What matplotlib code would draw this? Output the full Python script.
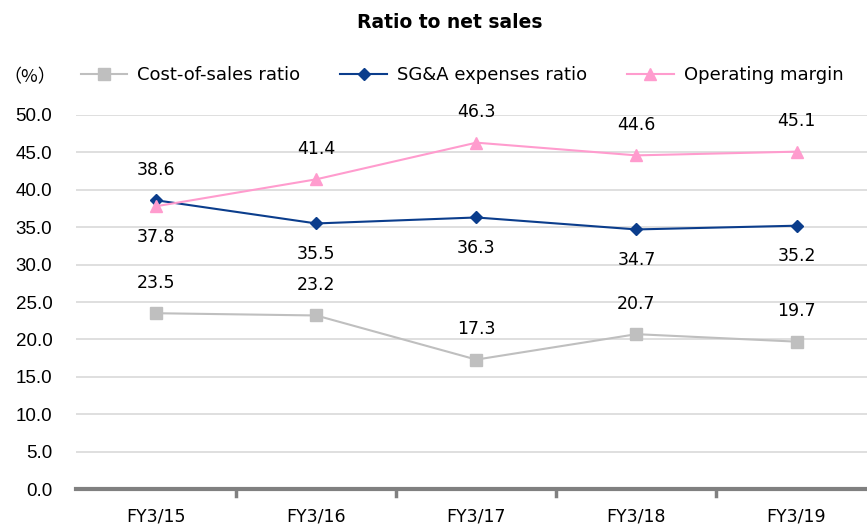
import matplotlib
matplotlib.use('Agg')
import matplotlib.pyplot as plt

# donnees
annees = ['FY3/15', 'FY3/16', 'FY3/17', 'FY3/18', 'FY3/19']
cout_ventes = [23.5, 23.2, 17.3, 20.7, 19.7]
sga = [38.6, 35.5, 36.3, 34.7, 35.2]
marge_op = [37.8, 41.4, 46.3, 44.6, 45.1]

# position des etiquettes (+1 dessus, -1 dessous)
pos_cout = [1, 1, 1, 1, 1]
pos_sga = [1, -1, -1, -1, -1]
pos_marge = [-1, 1, 1, 1, 1]

police = ['DejaVu Sans']
police_jp = ['Noto Sans CJK JP', 'DejaVu Sans']
police_chiffres = ['Liberation Sans', 'DejaVu Sans']

fig = plt.figure(figsize=(8.67, 5.26), dpi=100)
ax = fig.add_axes([0.0877, 0.0703, 0.9123, 0.7111])

x = list(range(len(annees)))
l1, = ax.plot(x, cout_ventes, color='#BFBFBF', marker='s', markersize=8, lw=1.5, label='Cost-of-sales ratio', zorder=3)
l2, = ax.plot(x, sga, color='#0B3D8C', marker='D', markersize=6.5, lw=1.5, label='SG&A expenses ratio', zorder=4)
l3, = ax.plot(x, marge_op, color='#FF9CCE', marker='^', markersize=9, lw=1.5, label='Operating margin', zorder=5)

for serie, pos in [(cout_ventes, pos_cout), (sga, pos_sga), (marge_op, pos_marge)]:
    for i in range(len(serie)):
        ax.annotate('%.1f' % serie[i], (x[i], serie[i]), xytext=(0, 22 * pos[i]),
                    textcoords='offset points', ha='center', va='center',
                    fontsize=12.5, family=police)

ax.set_xlim(-0.5, 4.44)
ax.set_ylim(0, 50)
ax.set_yticks([i * 5 for i in range(11)])
ax.set_yticklabels(['%.1f' % (i * 5) for i in range(11)], family=police_chiffres, fontsize=13.5)
ax.set_xticks(x)
ax.set_xticklabels(annees, family=police, fontsize=12.5)
ax.tick_params(axis='y', length=0, pad=17)
ax.tick_params(axis='x', length=0, pad=13)
for i in range(1, 5):
    ax.plot([i - 0.5, i - 0.5], [0, -0.9], color='#808080', lw=2.5, clip_on=False, zorder=6)

ax.grid(axis='y', color='#D9D9D9', lw=1.2)
ax.set_axisbelow(True)
for c in ['top', 'right', 'left']:
    ax.spines[c].set_visible(False)
ax.spines['bottom'].set_color('#808080')
ax.spines['bottom'].set_linewidth(3)
ax.spines['bottom'].set_zorder(6)

fig.text(450 / 867, 1 - 22 / 526, 'Ratio to net sales', ha='center', va='center',
         fontsize=13.5, fontweight='bold', family=police)
fig.text(30 / 867, 1 - 77 / 526, '（%）', ha='center', va='center', fontsize=13, family=police_jp)

fig.legend(handles=[l1, l2, l3], loc='center', bbox_to_anchor=(462 / 867, 1 - 75 / 526), ncol=3,
           frameon=False, prop={'family': police, 'size': 13}, handlelength=2.6,
           columnspacing=2.2, handletextpad=0.55)

fig.savefig('out.png', dpi=100)
